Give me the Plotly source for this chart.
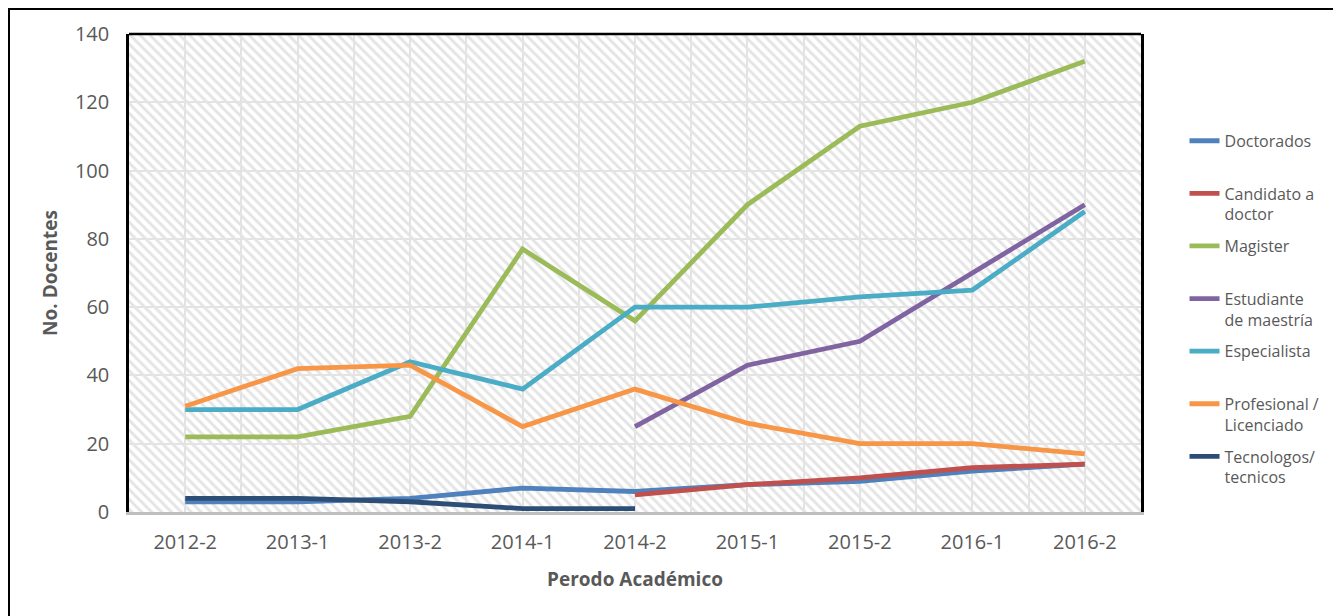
import plotly.graph_objects as go

periods = ["2012-2", "2013-1", "2013-2", "2014-1", "2014-2", "2015-1", "2015-2", "2016-1", "2016-2"]

doctorados = [3, 3, 4, 7, 6, 8, 9, 12, 14]
candidato_doctor = [None, None, None, None, 5, 8, 10, 13, 14]
magister = [22, 22, 28, 77, 56, 90, 113, 120, 132]
estudiante_maestria = [None, None, None, None, 25, 43, 50, 70, 90]
especialista = [30, 30, 44, 36, 60, 60, 63, 65, 88]
profesional = [31, 42, 43, 25, 36, 26, 20, 20, 17]
tecnologos = [4, 4, 3, 1, 1, None, None, None, None]

series = [
    ("Doctorados<br> ", doctorados, "#4F81BD"),
    ("Candidato a<br>doctor", candidato_doctor, "#C0504D"),
    ("Magister<br> ", magister, "#9BBB59"),
    ("Estudiante<br>de maestría", estudiante_maestria, "#8064A2"),
    ("Especialista<br> ", especialista, "#4BACC6"),
    ("Profesional /<br>Licenciado", profesional, "#F79646"),
    ("Tecnologos/<br>tecnicos", tecnologos, "#2C4D75"),
]

y_max = 140
idx = list(range(len(periods)))

fig = go.Figure()

# hatched plot-area background
fig.add_trace(go.Bar(
    x=idx, y=[y_max] * len(periods), width=1,
    marker=dict(color="rgba(0,0,0,0)", line=dict(width=0),
                pattern=dict(shape="\\", fgcolor="#e4e4e4", bgcolor="rgba(0,0,0,0)",
                             size=7, solidity=0.42, fillmode="replace")),
    showlegend=False, hoverinfo="skip",
))

for i, (name, vals, color) in enumerate(series):
    fig.add_trace(go.Scatter(
        x=idx, y=vals, name=name, mode="lines",
        line=dict(color=color, width=4.8),
        legendgroup=f"g{i}",
        connectgaps=False,
    ))

font_color = "#595959"
L, T, PW, PH = 121, 26, 1012, 478
fig.update_layout(
    width=1341, height=616,
    margin=dict(l=L, r=1341 - L - PW, t=T, b=616 - T - PH),
    paper_bgcolor="white", plot_bgcolor="white",
    font=dict(family="Open Sans", color=font_color, size=20),
    bargap=0,
    showlegend=True,
    legend=dict(
        x=1.043, xanchor="left", y=0.812, yanchor="top",
        font=dict(size=16, color=font_color, family="Open Sans"),
        valign="top", tracegroupgap=8,
        bgcolor="rgba(0,0,0,0)",
    ),
    xaxis=dict(
        range=[-0.5, len(periods) - 0.5],
        tickmode="array", tickvals=idx, ticktext=periods,
        showgrid=True, gridcolor="#e3e3e3", gridwidth=1.5,
        minor=dict(tick0=-0.5, dtick=1, showgrid=True, gridcolor="#e3e3e3", gridwidth=1.5),
        showline=True, linecolor="#bfbfbf", linewidth=3,
        ticks="", zeroline=False, ticklabelstandoff=10,
        tickfont=dict(size=20, color=font_color),
        title=dict(text="<b>Perodo Académico</b>", font=dict(size=19, color=font_color), standoff=19),
    ),
    yaxis=dict(
        range=[0, y_max], dtick=20,
        showgrid=True, gridcolor="#e3e3e3", gridwidth=1.5,
        showline=True, linecolor="black", linewidth=2.5, mirror=True,
        ticks="", zeroline=False, ticklabelstandoff=13,
        tickfont=dict(size=20, color=font_color),
        title=dict(text="<b>No. Docentes</b>", font=dict(size=19, color=font_color), standoff=13),
    ),
)

# top border of plot area
fig.add_shape(type="line", xref="paper", yref="paper", x0=0, x1=1, y0=1, y1=1,
              line=dict(color="black", width=2.5))
# outer chart frame
fig.add_shape(type="rect", xref="paper", yref="paper",
              x0=(1 - L) / PW, x1=(1331 - L) / PW,
              y0=(T + PH - 640) / PH, y1=(T + PH - 1) / PH,
              line=dict(color="black", width=2), fillcolor="rgba(0,0,0,0)", layer="below")

fig.write_html("out.html")
